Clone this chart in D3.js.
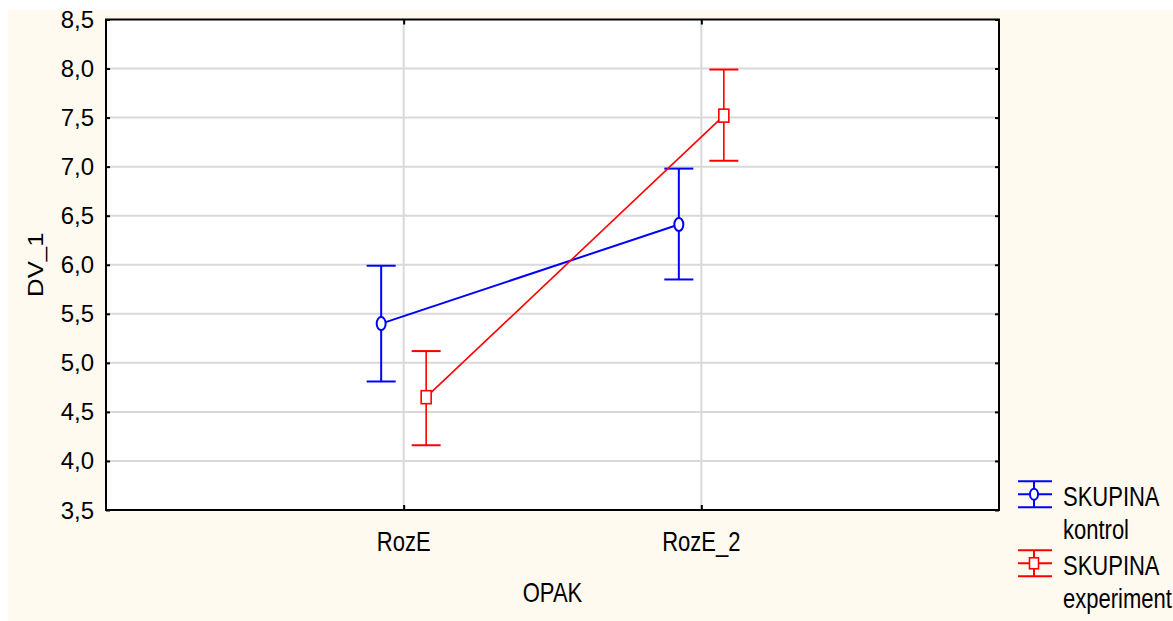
<!DOCTYPE html>
<html><head><meta charset="utf-8">
<script src="https://cdn.jsdelivr.net/npm/d3@7"></script>
<style>
html,body{margin:0;padding:0;background:#fff;}
text{font-family:"Liberation Sans",Arial,sans-serif;fill:#000;}
</style></head>
<body>
<svg id="chart" width="1173" height="621"></svg>
<script>
// ---- data ----
const categories = ["RozE", "RozE_2"];
const seriesNames = ["kontrol", "experiment"];
const kontrolMean  = [5.40, 6.41];
const kontrolUpper = [5.99, 6.98];
const kontrolLower = [4.81, 5.85];
const experimentMean  = [4.65, 7.52];
const experimentUpper = [5.12, 7.99];
const experimentLower = [4.16, 7.06];
const yTicks = [3.5, 4.0, 4.5, 5.0, 5.5, 6.0, 6.5, 7.0, 7.5, 8.0, 8.5];
const xTitle = "OPAK";
const yTitle = "DV_1";
const legendTitle = "SKUPINA";

// ---- layout ----
const svg = d3.select("#chart");
const W = 1173, H = 621;
const plot = {left: 106, top: 19.5, right: 999, bottom: 510};
const colors = {kontrol: "#0000ff", experiment: "#ff0000"};

svg.append("rect").attr("x", 0).attr("y", 0).attr("width", W).attr("height", H).attr("fill", "#ffffff");
svg.append("rect").attr("x", 8).attr("y", 10).attr("width", W - 8).attr("height", H - 10).attr("fill", "#fffaf0");
svg.append("rect").attr("x", plot.left).attr("y", plot.top)
  .attr("width", plot.right - plot.left).attr("height", plot.bottom - plot.top).attr("fill", "#ffffff");

const x = d3.scalePoint().domain(categories).range([plot.left, plot.right]).padding(1);
const y = d3.scaleLinear().domain([3.5, 8.5]).range([plot.bottom, plot.top]);
const offset = d3.scalePoint().domain(seriesNames).range([-22.5, 22.5]);

// gridlines
const grid = svg.append("g");
grid.selectAll("line.h").data(yTicks.slice(1, -1)).join("line")
  .attr("x1", plot.left).attr("x2", plot.right)
  .attr("y1", d => y(d)).attr("y2", d => y(d))
  .attr("stroke", "#d9d9d9").attr("stroke-width", 2);
grid.selectAll("line.v").data(categories).join("line")
  .attr("x1", d => x(d)).attr("x2", d => x(d))
  .attr("y1", plot.top).attr("y2", plot.bottom)
  .attr("stroke", "#d9d9d9").attr("stroke-width", 2);

// axes (ticks inward)
const fmt = d => d3.format(".1f")(d).replace(".", ",");
const axL = svg.append("g").attr("transform", `translate(${plot.left},0)`)
  .call(d3.axisRight(y).tickValues(yTicks).tickSize(4).tickFormat(""));
const axR = svg.append("g").attr("transform", `translate(${plot.right},0)`)
  .call(d3.axisLeft(y).tickValues(yTicks).tickSize(4).tickFormat(""));
const axB = svg.append("g").attr("transform", `translate(0,${plot.bottom})`)
  .call(d3.axisTop(x).tickSize(5).tickFormat(""));
const axT = svg.append("g").attr("transform", `translate(0,${plot.top})`)
  .call(d3.axisBottom(x).tickSize(5).tickFormat(""));
[axL, axR, axB, axT].forEach(a => {
  a.select(".domain").remove();
  a.selectAll("line").attr("stroke", "#000").attr("stroke-width", 2);
});

// y tick labels
svg.append("g").selectAll("text").data(yTicks).join("text")
  .attr("x", 94).attr("y", d => y(d) + 8.5)
  .attr("text-anchor", "end").attr("font-size", 24)
  .text(fmt);

// frame
svg.append("rect").attr("x", plot.left).attr("y", plot.top)
  .attr("width", plot.right - plot.left).attr("height", plot.bottom - plot.top)
  .attr("fill", "none").attr("stroke", "#000").attr("stroke-width", 2);

// helper for vertically stretched text
function stext(g, tx, ty, str, size, anchor, sy) {
  return g.append("text").attr("transform", `translate(${tx},${ty}) scale(1,${sy})`)
    .attr("text-anchor", anchor).attr("font-size", size).text(str);
}

// x labels
categories.forEach(c => stext(svg, x(c), 550.7, c, 22, "middle", 1.25));
stext(svg, (plot.left + plot.right) / 2, 601.7, xTitle, 22, "middle", 1.25);
// y title
svg.append("text").attr("transform", `translate(43,${(plot.top + plot.bottom) / 2}) rotate(-90) scale(1.17,1)`)
  .attr("text-anchor", "middle").attr("font-size", 22).text(yTitle);

// series
const series = [
  {name: "kontrol", mean: kontrolMean, lo: kontrolLower, hi: kontrolUpper, lw: 2},
  {name: "experiment", mean: experimentMean, lo: experimentLower, hi: experimentUpper, lw: 1.6}
];
const capHalf = 14.5;
series.forEach(s => {
  const g = svg.append("g");
  const col = colors[s.name];
  const pts = categories.map((c, i) => ({cx: x(c) + offset(s.name), m: s.mean[i], lo: s.lo[i], hi: s.hi[i]}));
  g.append("path").datum(pts)
    .attr("d", d3.line().x(d => d.cx).y(d => y(d.m)))
    .attr("fill", "none").attr("stroke", col).attr("stroke-width", s.lw);
  g.selectAll("line.err").data(pts).join("line")
    .attr("x1", d => d.cx).attr("x2", d => d.cx)
    .attr("y1", d => y(d.lo)).attr("y2", d => y(d.hi))
    .attr("stroke", col).attr("stroke-width", s.lw);
  ["lo", "hi"].forEach(k => {
    g.selectAll("line.cap" + k).data(pts).join("line")
      .attr("x1", d => d.cx - capHalf).attr("x2", d => d.cx + capHalf)
      .attr("y1", d => y(d[k])).attr("y2", d => y(d[k]))
      .attr("stroke", col).attr("stroke-width", 2);
  });
  if (s.name === "kontrol") {
    g.selectAll("ellipse").data(pts).join("ellipse")
      .attr("cx", d => d.cx).attr("cy", d => y(d.m)).attr("rx", 4.5).attr("ry", 6.5)
      .attr("fill", "#fff").attr("stroke", col).attr("stroke-width", 2);
  } else {
    g.selectAll("rect").data(pts).join("rect")
      .attr("x", d => d.cx - 5).attr("y", d => y(d.m) - 6.5).attr("width", 10).attr("height", 13)
      .attr("fill", "#fff").attr("stroke", col).attr("stroke-width", 1.6);
  }
});

// legend
const legend = svg.append("g");
const legRows = [{name: "kontrol", y: 494.3}, {name: "experiment", y: 563.3}];
legRows.forEach(r => {
  const col = colors[r.name];
  const lx1 = 1018, lx2 = 1052, cx = 1034;
  [-13, 0, 13].forEach(dy => legend.append("line")
    .attr("x1", lx1).attr("x2", lx2).attr("y1", r.y + dy).attr("y2", r.y + dy)
    .attr("stroke", col).attr("stroke-width", 2));
  legend.append("line").attr("x1", cx).attr("x2", cx).attr("y1", r.y - 13).attr("y2", r.y + 13)
    .attr("stroke", col).attr("stroke-width", 2);
  if (r.name === "kontrol") {
    legend.append("ellipse").attr("cx", cx).attr("cy", r.y).attr("rx", 4).attr("ry", 5.5)
      .attr("fill", "#fff").attr("stroke", col).attr("stroke-width", 2);
  } else {
    legend.append("rect").attr("x", cx - 4.5).attr("y", r.y - 5.5).attr("width", 9).attr("height", 11)
      .attr("fill", "#fff").attr("stroke", col).attr("stroke-width", 1.6);
  }
  stext(legend, 1063, r.y + 11.5, legendTitle, 22, "start", 1.25);
  stext(legend, 1063, r.y + 44.5, r.name, 22, "start", 1.25);
});
</script>
</body></html>
